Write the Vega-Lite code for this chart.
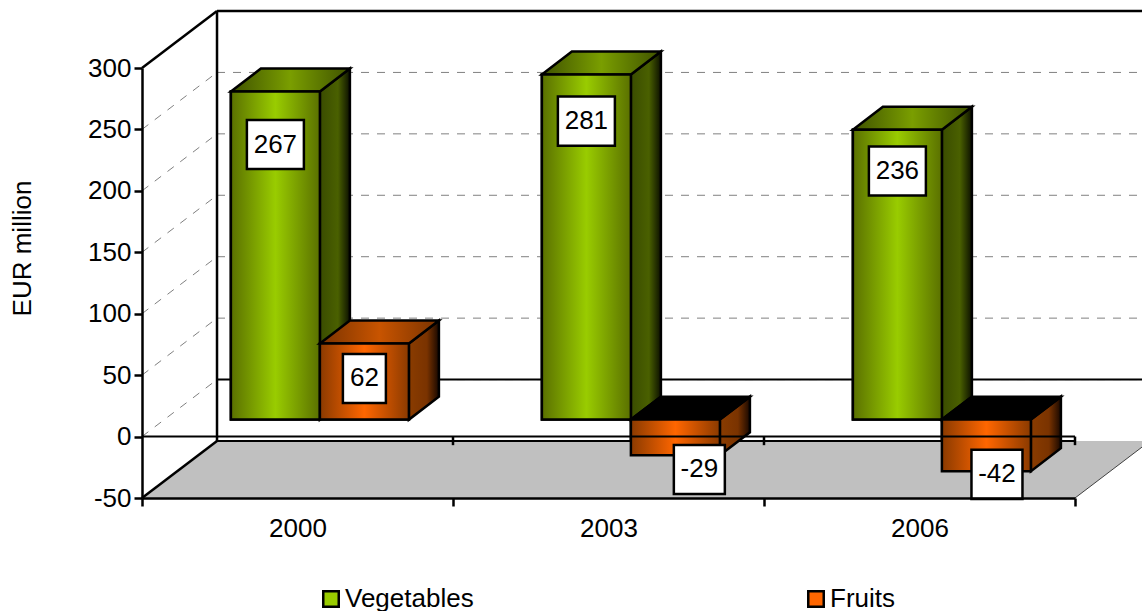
{
"$schema":"https://vega.github.io/schema/vega-lite/v6.json",
"width":933,"height":430,
"autosize":{"type":"none"},
"padding":{"left":142,"top":68,"right":67,"bottom":113},
"background":"white",
"config":{"view":{"stroke":null},"font":"Liberation Sans"},
"data":{"values":[
{"year":"2000","series":"Vegetables","value":267},
{"year":"2000","series":"Fruits","value":62},
{"year":"2003","series":"Vegetables","value":281},
{"year":"2003","series":"Fruits","value":-29},
{"year":"2006","series":"Vegetables","value":236},
{"year":"2006","series":"Fruits","value":-42}
]},
"transform":[
{"calculate":"indexof(['2000','2003','2006'],datum.year)","as":"idx"},
{"calculate":"datum.idx+0.572-(datum.series=='Vegetables'?0.2862:0)","as":"left"},
{"calculate":"datum.left+0.2862","as":"right"},
{"calculate":"13.8","as":"base"},
{"calculate":"datum.base+datum.value","as":"end"},
{"calculate":"max(datum.base,datum.end)","as":"hi"},
{"calculate":"min(datum.base,datum.end)","as":"lo"},
{"calculate":"datum.year+datum.series","as":"key"},
{"calculate":"''+datum.value","as":"label"},
{"calculate":"(datum.left+datum.right)/2+(datum.value==-29?0.077:datum.value==-42?0.034:0)","as":"lx"},
{"calculate":"({'267':237.7,'281':256.8,'236':216.2,'62':47.3,'-29':-26.8,'-42':-30.8})[datum.label]","as":"ly"},
{"calculate":"(length(datum.label)*14+(datum.value<0?9:15))/311/2","as":"lw"}
],
"layer":[
{"mark":{"type":"rect","stroke":"black","strokeWidth":2.5},
 "encoding":{
  "x":{"field":"left","type":"quantitative","scale":{"domain":[0,3],"nice":false,"zero":false},
   "axis":{"title":null,"values":[0,0.5,1,1.5,2,2.5,3],"grid":false,"zindex":1,"domainColor":"black","domainWidth":2.5,"tickColor":"black","tickWidth":2.5,"tickSize":8,
    "tickOpacity":{"condition":{"test":"datum.value%1!=0","value":0},"value":1},
    "labelExpr":"datum.value%1!=0?['2000','2003','2006'][floor(datum.value)]:''","labelFont":"Liberation Sans","labelFontSize":26,"labelColor":"black","labelPadding":9,"labelOverlap":false,"labelFlush":false,"labelBound":false}},
  "x2":{"field":"right"},
  "y":{"field":"lo","type":"quantitative","scale":{"domain":[-50,300],"nice":false,"zero":false},
   "axis":{"title":"EUR million","values":[-50,0,50,100,150,200,250,300],"grid":false,"zindex":1,"domainColor":"black","domainWidth":2.5,"tickColor":"black","tickWidth":2.5,"tickSize":8,
    "labelExpr":"''+datum.value","labelFont":"Liberation Sans","labelFontSize":26,"labelColor":"black","labelPadding":3,
    "titleFont":"Liberation Sans","titleFontSize":26,"titleFontWeight":"normal","titleColor":"black","titleX":-107,"titleY":180,"titleAngle":-90,"titleAlign":"center"}},
  "y2":{"field":"hi"},
  "color":{"field":"series","type":"nominal","scale":{"domain":["Vegetables","Fruits"],"range":["#99cc00","#ff6600"]},
   "legend":{"title":null,"orient":"none","legendX":176,"legendY":518,"direction":"horizontal","columns":2,"columnPadding":329,"symbolType":"square","symbolSize":240,"symbolStrokeColor":"black","symbolStrokeWidth":2.5,"symbolOpacity":1,"labelFont":"Liberation Sans","labelFontSize":26,"labelColor":"black","labelOffset":1,
    "encode":{"symbols":{"update":{"fill":{"signal":"{x1:0,y1:0,x2:1,y2:0,gradient:'linear',stops:datum.value=='Fruits'?[{offset:0,color:'#8a3a00'},{offset:0.5,color:'#ff6600'},{offset:1,color:'#8a3a00'}]:[{offset:0,color:'#5a7000'},{offset:0.5,color:'#99cc00'},{offset:1,color:'#5a7000'}]}"},"stroke":{"value":"black"}}}}}}
 }},
{"data":{"values":[{"frame":"floor","edge":"front"},{"frame":"floor","edge":"back"}]},
 "transform":[{"calculate":"datum.edge=='back'?1:0","as":"t"},{"calculate":"datum.t*0.2412","as":"fx"},{"calculate":"3+datum.t*0.2412","as":"fx2"},{"calculate":"-50+datum.t*46.4","as":"fy"}],
 "mark":{"type":"area","orient":"horizontal","fill":"#c0c0c0"},
 "encoding":{"y":{"field":"fy","type":"quantitative"},"x":{"field":"fx","type":"quantitative","stack":null},"x2":{"field":"fx2"}}},
{"data":{"values":[{"level":0},{"level":50},{"level":100},{"level":150},{"level":200},{"level":250}]},
 "transform":[{"calculate":"datum.level+46.4","as":"back"},{"calculate":"0.2412","as":"d"},{"calculate":"0","as":"o"},{"calculate":"3.3","as":"r"}],
 "layer":[
 {"mark":{"type":"rule","color":"#808080","strokeWidth":1,"strokeDash":[8,8]},"encoding":{"x":{"field":"o","type":"quantitative"},"x2":{"field":"d"},"y":{"field":"level","type":"quantitative"},"y2":{"field":"back"}}},
 {"mark":{"type":"rule","color":"#808080","strokeWidth":1,"strokeDash":[8,8]},"encoding":{"x":{"field":"d","type":"quantitative"},"x2":{"field":"r"},"y":{"field":"back","type":"quantitative"}}}
 ]},
{"data":{"values":[{"frame":"walls"}]},
 "layer":[
 {"mark":{"type":"rule","color":"black","strokeWidth":2.5},"encoding":{"x":{"datum":0,"type":"quantitative"},"x2":{"datum":0.2412},"y":{"datum":300,"type":"quantitative"},"y2":{"datum":346.4}}},
 {"mark":{"type":"rule","color":"black","strokeWidth":2.5},"encoding":{"x":{"datum":0,"type":"quantitative"},"x2":{"datum":0.2412},"y":{"datum":-50,"type":"quantitative"},"y2":{"datum":-3.6}}},
 {"mark":{"type":"rule","color":"black","strokeWidth":2.5},"encoding":{"x":{"datum":0.2412,"type":"quantitative"},"y":{"datum":346.4,"type":"quantitative"},"y2":{"datum":-3.6}}},
 {"mark":{"type":"rule","color":"black","strokeWidth":2.5},"encoding":{"x":{"datum":0.2412,"type":"quantitative"},"x2":{"datum":3.3},"y":{"datum":346.4,"type":"quantitative"}}},
 {"mark":{"type":"rule","color":"black","strokeWidth":2},"encoding":{"x":{"datum":0.2412,"type":"quantitative"},"x2":{"datum":3.3},"y":{"datum":46.4,"type":"quantitative"}}},
 {"mark":{"type":"rule","color":"black","strokeWidth":2},"encoding":{"x":{"datum":0.2412,"type":"quantitative"},"x2":{"datum":3},"y":{"datum":-3.6,"type":"quantitative"}}},
 {"mark":{"type":"rule","color":"#404040","strokeWidth":1},"encoding":{"x":{"datum":3,"type":"quantitative"},"x2":{"datum":3.2412},"y":{"datum":-50,"type":"quantitative"},"y2":{"datum":-3.6}}}
 ]},
{"transform":[{"filter":"datum.series=='Vegetables'"},{"calculate":"[0,1]","as":"t"},{"flatten":["t"]},{"calculate":"datum.right+datum.t*0.0965","as":"sx"},{"calculate":"datum.hi+datum.t*18.7","as":"sy"},{"calculate":"datum.lo+datum.t*18.7","as":"sy2"}],
 "mark":{"type":"area","stroke":"black","strokeWidth":2.5,"fill":{"x1":0,"y1":0,"x2":1,"y2":0,"gradient":"linear","stops":[{"offset":0,"color":"#3a4c00"},{"offset":0.6,"color":"#4a6000"},{"offset":1,"color":"#0c1000"}]}},
 "encoding":{"x":{"field":"sx","type":"quantitative"},"y":{"field":"sy","type":"quantitative","stack":null},"y2":{"field":"sy2"},"detail":{"field":"key"}}},
{"transform":[{"filter":"datum.series=='Vegetables'"},{"calculate":"[0,1]","as":"t"},{"flatten":["t"]},{"calculate":"datum.left+datum.t*0.0965","as":"tx"},{"calculate":"datum.right+datum.t*0.0965","as":"tx2"},{"calculate":"datum.hi+datum.t*18.7","as":"ty"}],
 "mark":{"type":"area","orient":"horizontal","stroke":"black","strokeWidth":2.5,"fill":{"x1":0,"y1":0,"x2":1,"y2":0,"gradient":"linear","stops":[{"offset":0,"color":"#3f5200"},{"offset":0.5,"color":"#7a9e00"},{"offset":1,"color":"#3f5200"}]}},
 "encoding":{"y":{"field":"ty","type":"quantitative"},"x":{"field":"tx","type":"quantitative","stack":null},"x2":{"field":"tx2"},"detail":{"field":"key"}}},
{"transform":[{"filter":"datum.series=='Vegetables'"}],
 "mark":{"type":"rect","stroke":"black","strokeWidth":2.5,"fill":{"x1":0,"y1":0,"x2":1,"y2":0,"gradient":"linear","stops":[{"offset":0,"color":"#5a7000"},{"offset":0.5,"color":"#99cc00"},{"offset":1,"color":"#5a7000"}]}},
 "encoding":{"x":{"field":"left","type":"quantitative"},"x2":{"field":"right"},"y":{"field":"lo","type":"quantitative"},"y2":{"field":"hi"}}},
{"transform":[{"filter":"datum.series=='Fruits'"},{"calculate":"[0,1]","as":"t"},{"flatten":["t"]},{"calculate":"datum.right+datum.t*0.0965","as":"sx"},{"calculate":"datum.hi+datum.t*18.7","as":"sy"},{"calculate":"datum.lo+datum.t*18.7","as":"sy2"}],
 "mark":{"type":"area","stroke":"black","strokeWidth":2.5,"fill":{"x1":0,"y1":0,"x2":1,"y2":0,"gradient":"linear","stops":[{"offset":0,"color":"#8a3c00"},{"offset":0.6,"color":"#7a3300"},{"offset":1,"color":"#180800"}]}},
 "encoding":{"x":{"field":"sx","type":"quantitative"},"y":{"field":"sy","type":"quantitative","stack":null},"y2":{"field":"sy2"},"detail":{"field":"key"}}},
{"transform":[{"filter":"datum.series=='Fruits'&&datum.value>=0"},{"calculate":"[0,1]","as":"t"},{"flatten":["t"]},{"calculate":"datum.left+datum.t*0.0965","as":"tx"},{"calculate":"datum.right+datum.t*0.0965","as":"tx2"},{"calculate":"datum.hi+datum.t*18.7","as":"ty"}],
 "mark":{"type":"area","orient":"horizontal","stroke":"black","strokeWidth":2.5,"fill":{"x1":0,"y1":0,"x2":1,"y2":0,"gradient":"linear","stops":[{"offset":0,"color":"#7a3300"},{"offset":0.5,"color":"#c85400"},{"offset":1,"color":"#7a3300"}]}},
 "encoding":{"y":{"field":"ty","type":"quantitative"},"x":{"field":"tx","type":"quantitative","stack":null},"x2":{"field":"tx2"},"detail":{"field":"key"}}},
{"transform":[{"filter":"datum.series=='Fruits'&&datum.value<0"},{"calculate":"[0,1]","as":"t"},{"flatten":["t"]},{"calculate":"datum.left+datum.t*0.0965","as":"tx"},{"calculate":"datum.right+datum.t*0.0965","as":"tx2"},{"calculate":"datum.hi+datum.t*18.7","as":"ty"}],
 "mark":{"type":"area","orient":"horizontal","stroke":"black","strokeWidth":2.5,"fill":"black"},
 "encoding":{"y":{"field":"ty","type":"quantitative"},"x":{"field":"tx","type":"quantitative","stack":null},"x2":{"field":"tx2"},"detail":{"field":"key"}}},
{"transform":[{"filter":"datum.series=='Fruits'"}],
 "mark":{"type":"rect","stroke":"black","strokeWidth":2.5,"fill":{"x1":0,"y1":0,"x2":1,"y2":0,"gradient":"linear","stops":[{"offset":0,"color":"#8a3a00"},{"offset":0.5,"color":"#ff6600"},{"offset":1,"color":"#8a3a00"}]}},
 "encoding":{"x":{"field":"left","type":"quantitative"},"x2":{"field":"right"},"y":{"field":"lo","type":"quantitative"},"y2":{"field":"hi"}}},
{"data":{"values":[{"frame":"zero"}]},
 "mark":{"type":"rule","color":"black","strokeWidth":2},"encoding":{"x":{"datum":0,"type":"quantitative"},"x2":{"datum":3},"y":{"datum":0,"type":"quantitative"}}},
{"data":{"values":[{"boundary":1},{"boundary":2},{"boundary":3}]},
 "mark":{"type":"rule","color":"black","strokeWidth":2.5},"encoding":{"x":{"field":"boundary","type":"quantitative"},"y":{"datum":0,"type":"quantitative"},"y2":{"datum":-7}}},
{"transform":[{"calculate":"datum.lx-datum.lw","as":"bx"},{"calculate":"datum.lx+datum.lw","as":"bx2"},{"calculate":"datum.ly-20","as":"by"},{"calculate":"datum.ly+20","as":"by2"}],
 "mark":{"type":"rect","fill":"white","stroke":"black","strokeWidth":2.5},
 "encoding":{"x":{"field":"bx","type":"quantitative"},"x2":{"field":"bx2"},"y":{"field":"by","type":"quantitative"},"y2":{"field":"by2"}}},
{"mark":{"type":"text","font":"Liberation Sans","fontSize":26,"color":"black","align":"center","baseline":"middle"},
 "encoding":{"x":{"field":"lx","type":"quantitative"},"y":{"field":"ly","type":"quantitative"},"text":{"field":"label"}}}
]
}
